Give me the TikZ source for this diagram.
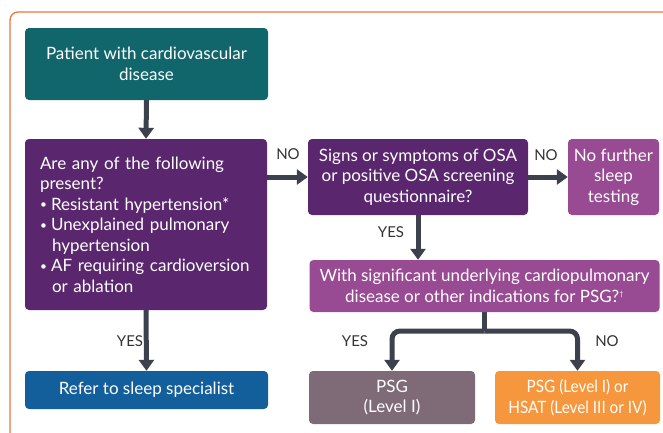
\documentclass[tikz,border=0pt]{standalone}
\usepackage{fontspec}
\setmainfont{Lato}
\newfontfamily\narrowfont[FakeStretch=0.9]{Lato}
\usetikzlibrary{arrows.meta}
\pgfdeclarelayer{edgelayer}
\pgfdeclarelayer{nodelayer}
\pgfsetlayers{edgelayer,nodelayer,main}
\definecolor{tealbox}{HTML}{11666C}
\definecolor{darkpurple}{HTML}{5A276E}
\definecolor{lightpurple}{HTML}{984A92}
\definecolor{bluebox}{HTML}{135F9B}
\definecolor{mauvebox}{HTML}{7F6A78}
\definecolor{orangebox}{HTML}{F6963D}
\definecolor{arrowgrey}{HTML}{3D414D}
\definecolor{framecol}{HTML}{E9773E}
\newcommand{\bulletitem}{\makebox[11pt][l]{\raisebox{1.5pt}{\scalebox{0.7}{•}}}}
\newcommand{\bulletgap}{\hspace*{12pt}}
\tikzstyle{none}=[inner sep=0pt]
\tikzstyle{box}=[rounded corners=4pt,inner sep=0pt,text=white,align=center,font=\fontsize{17}{20.5}\selectfont]
\tikzstyle{narrow_box}=[box,font=\narrowfont\fontsize{17}{20.5}\selectfont]
\tikzstyle{answer}=[inner sep=0pt,text=black!80,font=\fontsize{15}{18}\selectfont]
\tikzstyle{flow}=[-{Triangle[width=15pt,length=11pt]},draw=arrowgrey,line width=5pt]

\begin{document}
\begin{tikzpicture}[x=1pt,y=-1pt]
	\clip (0,0) rectangle (663,432);
	\draw [draw=framecol, line width=1.3pt, rounded corners=8pt] (10,12) rectangle (720,480);
	\begin{pgfonlayer}{nodelayer}
		\node [style=box, fill=tealbox, minimum width=243pt, minimum height=72pt] (0) at (146.5, 64) {Patient with cardiovascular\\disease};
		\node [style=box, fill=darkpurple, minimum width=242pt, minimum height=171pt, text width=212pt, align=left] (1) at (146, 224.5) {Are any of the following\\present?\\
			\bulletitem Resistant hypertension*\\
			\bulletitem Unexplained pulmonary\\
			\bulletgap hypertension\\
			\bulletitem AF requiring cardioversion\\
			\bulletgap or ablation};
		\node [style=box, fill=darkpurple, minimum width=220pt, minimum height=76pt] (2) at (418, 177) {Signs or symptoms of OSA\\or positive OSA screening\\questionnaire?};
		\node [style=box, fill=lightpurple, minimum width=91pt, minimum height=76pt] (3) at (613.5, 177) {No further\\sleep\\testing};
		\node [style=box, fill=lightpurple, minimum width=350pt, minimum height=52pt] (4) at (484.5, 286) {With significant underlying cardiopulmonary\\disease or other indications for PSG?\textsuperscript{\scriptsize†}};
		\node [style=box, fill=bluebox, minimum width=243pt, minimum height=38pt] (5) at (146.5, 390) {Refer to sleep specialist};
		\node [style=box, fill=mauvebox, minimum width=166pt, minimum height=53pt] (6) at (392, 397.5) {PSG\\(Level I)};
		\node [style={narrow_box}, fill=orangebox, minimum width=165pt, minimum height=53pt] (7) at (577.5, 397.5) {PSG (Level I) or\\HSAT (Level III or IV)};
		\coordinate (8) at (484.5, 331);
		\node [style=answer] (9) at (288, 154) {NO};
		\node [style=answer] (10) at (546, 155) {NO};
		\node [style=answer] (11) at (391, 232) {YES};
		\node [style=answer] (12) at (130, 341) {YES};
		\node [style=answer] (13) at (355, 341) {YES};
		\node [style=answer] (14) at (607, 341) {NO};
	\end{pgfonlayer}
	\begin{pgfonlayer}{edgelayer}
		\draw [style=flow] (0.south) to (1.north);
		\draw [style=flow] (2.west -| 1.east) to (2.west);
		\draw [style=flow] (2.east) to (3.west);
		\draw [style=flow] (2.south) to (2.south |- 4.north);
		\draw [draw=arrowgrey, line width=5pt] (4.south) to (8);
		\draw [style=flow, rounded corners=8pt] (8) -| (6.north);
		\draw [style=flow, rounded corners=8pt] (8) -| (7.north);
		\draw [style=flow] (1.south) to (5.north);
	\end{pgfonlayer}
\end{tikzpicture}
\end{document}
